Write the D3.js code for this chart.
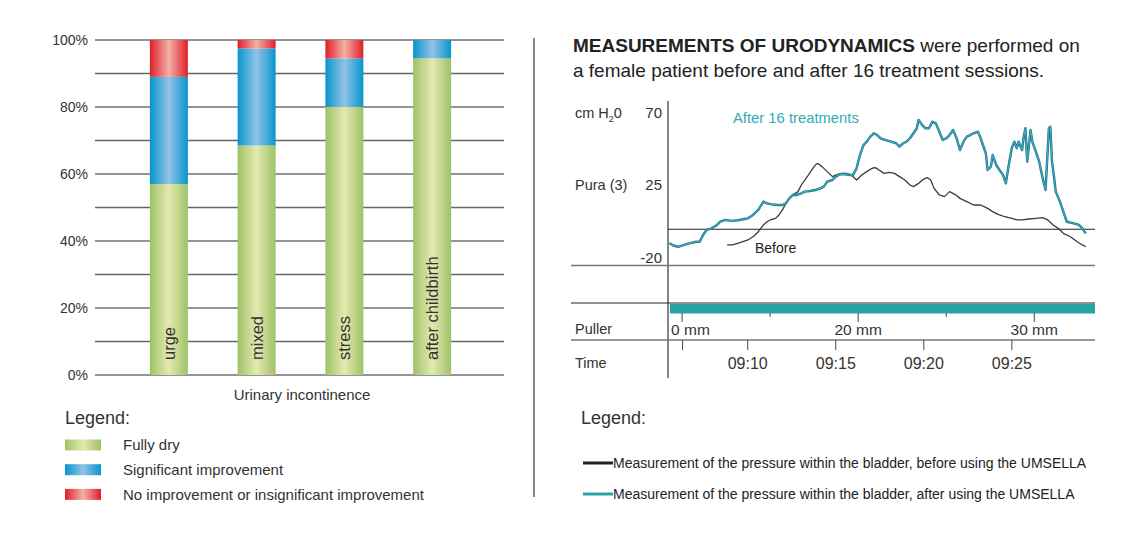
<!DOCTYPE html>
<html><head><meta charset="utf-8">
<script src="https://cdn.jsdelivr.net/npm/d3@7"></script>
<style>body{margin:0;background:#fff}svg{display:block;font-family:"Liberation Sans",Arial,Helvetica,sans-serif}</style>
</head><body><svg id="c" width="1139" height="545"></svg>
<script>
// ---------- Left chart data ----------
const categories = ["urge", "mixed", "stress", "after childbirth"];
const fullyDry = [57, 68.5, 80, 94.5];
const significant = [32, 29, 14.5, 5.5];
const noImprovement = [11, 2.5, 5.5, 0];
const seriesNames = ["Fully dry", "Significant improvement", "No improvement or insignificant improvement"];
const percentTicks = [0, 20, 40, 60, 80, 100];
const gridValues = [0, 10, 20, 30, 40, 50, 60, 70, 80, 90, 100];
const xAxisTitle = "Urinary incontinence";

// ---------- Right chart data (minutes after 09:00, cm H2O) ----------
const afterTime = [5.59,5.83,6.12,6.42,6.71,7.10,7.30,7.49,7.69,7.98,8.28,8.47,8.77,9.16,9.55,9.84,10.04,10.33,10.63,10.92,11.12,11.41,11.70,12.00,12.19,12.39,12.58,12.78,13.07,13.27,13.56,13.86,14.15,14.35,14.54,14.84,15.03,15.23,15.52,15.82,16.01,16.21,16.40,16.60,16.79,16.99,17.19,17.38,17.58,17.87,18.16,18.46,18.65,18.85,19.05,19.24,19.44,19.63,19.73,19.93,20.12,20.32,20.51,20.71,20.91,21.10,21.30,21.49,21.69,21.89,22.08,22.28,22.47,22.67,22.86,23.10,23.26,23.35,23.55,23.65,23.84,23.94,24.04,24.14,24.33,24.53,24.69,24.82,25.02,25.17,25.31,25.41,25.61,25.70,25.80,25.90,26.00,26.09,26.19,26.39,26.58,26.78,26.94,27.03,27.13,27.21,27.31,27.41,27.52,27.76,27.95,28.15,28.54,28.84,29.03,29.23];
const afterPressure = [-11.2,-12.7,-13.3,-12.2,-11.2,-10.2,-10.2,-6.0,-2.9,-1.9,0.2,2.2,3.3,2.7,3.3,3.9,4.3,6.4,9.5,14.7,13.6,13.0,12.6,12.6,13.6,16.7,18.8,18.8,19.8,20.9,21.3,21.9,22.9,24.0,27.1,28.1,30.2,31.6,31.8,31.2,31.2,35.4,43.6,49.8,51.9,55.0,57.1,56.0,54.0,52.9,51.9,50.9,48.8,50.9,51.9,54.0,57.1,60.2,65.4,62.3,60.2,60.2,64.3,63.3,58.1,52.9,54.0,56.0,59.1,54.0,46.7,51.9,55.0,56.0,57.1,58.1,54.0,50.9,44.7,34.3,36.4,43.6,40.5,37.4,34.3,31.2,26.0,35.4,47.8,51.9,47.8,51.9,46.7,55.0,60.2,39.5,49.8,59.1,51.9,45.7,39.5,29.1,21.9,39.5,60.2,61.2,39.5,31.2,20.9,14.7,8.5,2.2,1.2,0.2,-1.9,-5.0];
const beforeTime = [8.86,9.16,9.45,9.75,10.04,10.33,10.63,10.92,11.12,11.31,11.61,11.80,12.00,12.19,12.39,12.58,12.88,13.07,13.27,13.47,13.66,13.86,14.01,14.25,14.54,14.84,15.03,15.33,15.62,15.91,16.21,16.50,16.79,17.09,17.28,17.48,17.77,18.07,18.36,18.65,18.95,19.24,19.44,19.73,20.02,20.22,20.42,20.61,20.91,21.20,21.49,21.79,22.08,22.47,22.86,23.26,23.65,23.94,24.24,24.63,25.02,25.31,25.61,26.00,26.39,26.78,27.07,27.37,27.66,27.95,28.35,28.74,29.03,29.23];
const beforePressure = [-12.2,-12.2,-11.2,-10.2,-9.1,-7.1,-4.0,0.2,2.2,3.3,4.3,6.4,9.5,13.6,16.7,18.8,20.9,25.0,28.1,31.2,34.3,37.4,38.4,36.4,33.3,30.2,31.2,32.2,32.2,31.2,28.1,31.2,33.3,35.4,35.8,34.3,32.2,32.9,32.2,30.2,28.1,25.0,24.0,26.0,28.7,29.6,28.1,22.9,18.8,17.8,20.9,19.2,16.7,14.7,12.6,12.6,10.5,8.5,6.8,5.3,4.3,3.3,3.3,3.9,4.3,4.7,3.3,0.2,-1.9,-5.0,-7.1,-10.2,-12.2,-13.3];
const pressureTicks = [70, 25, -20];
const referenceLevel = -2.5;
const bottomLevel = -25;
const timeTicks = [6.3, 10, 15, 20, 25];
const timeLabels = ["", "09:10", "09:15", "09:20", "09:25"];
const pullerTicks = [6.3, 11.3, 16.3, 21.3, 26.3];
const pullerLabels = ["0 mm", "", "20 mm", "", "30 mm"];
const legendRight = ["Measurement of the pressure within the bladder, before using the UMSELLA",
                     "Measurement of the pressure within the bladder, after using the UMSELLA"];

const svg = d3.select("#c");
const TXT = "#333";
const FF = "Liberation Sans, Arial, sans-serif";

// ---------- gradients ----------
const defs = svg.append("defs");
const gradSpecs = [["gGreen", "#9ec266", "#e4e9b1"], ["gBlue", "#0795cf", "#92c3e5"], ["gRed", "#df1f29", "#f3b0a6"]];
gradSpecs.forEach(([id, edge, mid]) => {
  const g = defs.append("linearGradient").attr("id", id).attr("x1", 0).attr("x2", 1).attr("y1", 0).attr("y2", 0);
  g.append("stop").attr("offset", "0%").attr("stop-color", edge);
  g.append("stop").attr("offset", "50%").attr("stop-color", mid);
  g.append("stop").attr("offset", "100%").attr("stop-color", edge);
});
const fills = ["url(#gGreen)", "url(#gBlue)", "url(#gRed)"];

// ---------- LEFT CHART ----------
const yL = d3.scaleLinear().domain([0, 100]).range([375, 40]);
const xL = d3.scaleBand().domain(categories).range([125, 476]).paddingInner(0.567).paddingOuter(0.2835);

svg.append("g").selectAll("line").data(gridValues).join("line")
  .attr("x1", 95).attr("x2", 504).attr("y1", d => yL(d)).attr("y2", d => yL(d))
  .attr("stroke", (d, i) => i % 2 ? "#666" : "#2a2a2a").attr("stroke-width", (d, i) => i % 2 ? 1.3 : 1);

const yAxisL = svg.append("g").attr("transform", "translate(95,0)")
  .call(d3.axisLeft(yL).tickValues(percentTicks).tickFormat(d => d + "%").tickSize(0).tickPadding(7));
yAxisL.select(".domain").remove();
yAxisL.selectAll("text").attr("font-size", 14).attr("fill", TXT).attr("font-family", FF);

const table = categories.map((c, i) => ({cat: c, dry: fullyDry[i], sig: significant[i], no: noImprovement[i]}));
const stacked = d3.stack().keys(["dry", "sig", "no"])(table);
svg.append("g").selectAll("g").data(stacked).join("g").attr("fill", (d, i) => fills[i])
  .selectAll("rect").data(d => d).join("rect")
  .attr("x", d => xL(d.data.cat)).attr("width", xL.bandwidth())
  .attr("y", d => yL(d[1])).attr("height", d => yL(d[0]) - yL(d[1]));

svg.append("g").selectAll("text").data(categories).join("text")
  .attr("transform", d => `translate(${xL(d) + xL.bandwidth() / 2},360) rotate(-90)`)
  .attr("dy", "0.36em").attr("font-size", 16.5).attr("fill", TXT).text(d => d);

svg.append("text").attr("x", 302).attr("y", 400).attr("text-anchor", "middle")
  .attr("font-size", 15).attr("fill", TXT).text(xAxisTitle);

svg.append("text").attr("x", 65).attr("y", 424).attr("font-size", 18).attr("fill", TXT).text("Legend:");
const legL = svg.append("g").selectAll("g").data(seriesNames).join("g")
  .attr("transform", (d, i) => `translate(65,${445 + i * 24.7})`);
legL.append("rect").attr("x", 0).attr("y", -5.5).attr("width", 36).attr("height", 11).attr("fill", (d, i) => fills[i]);
legL.append("text").attr("x", 58).attr("dy", "0.35em").attr("font-size", 15).attr("fill", TXT).text(d => d);

// divider
svg.append("line").attr("x1", 534).attr("x2", 534).attr("y1", 38).attr("y2", 497).attr("stroke", "#888").attr("stroke-width", 2);

// ---------- RIGHT CHART ----------
const title = svg.append("text").attr("x", 573).attr("y", 52).attr("font-size", 19).attr("fill", "#222");
title.append("tspan").attr("font-weight", "bold").text("MEASUREMENTS OF URODYNAMICS");
title.append("tspan").text(" were performed on");
svg.append("text").attr("x", 573).attr("y", 77).attr("font-size", 19).attr("fill", "#222")
  .text("a female patient before and after 16 treatment sessions.");

const xR = d3.scaleLinear().domain([5.5, 29.75]).range([668, 1095]);
const yR = d3.scaleLinear().domain([-20, 70]).range([257.5, 112.5]);

// frame lines
svg.append("line").attr("x1", 668).attr("x2", 668).attr("y1", 101).attr("y2", 378).attr("stroke", "#333").attr("stroke-width", 1.2);
svg.append("line").attr("x1", 668).attr("x2", 1095).attr("y1", yR(referenceLevel)).attr("y2", yR(referenceLevel)).attr("stroke", "#222").attr("stroke-width", 1.1);
svg.append("line").attr("x1", 571).attr("x2", 1095).attr("y1", yR(bottomLevel)).attr("y2", yR(bottomLevel)).attr("stroke", "#777").attr("stroke-width", 1.6);
svg.append("line").attr("x1", 571).attr("x2", 1095).attr("y1", 303).attr("y2", 303).attr("stroke", "#222").attr("stroke-width", 1.1);
svg.append("rect").attr("x", 670).attr("y", 304).attr("width", 1095 - 670).attr("height", 9.5).attr("fill", "#27a3a3");
svg.append("line").attr("x1", 571).attr("x2", 1095).attr("y1", 340).attr("y2", 340).attr("stroke", "#777").attr("stroke-width", 1.5);

// y labels
const yAxisR = svg.append("g").attr("transform", "translate(668,0)")
  .call(d3.axisLeft(yR).tickValues(pressureTicks).tickFormat(d => String(d)).tickSize(0).tickPadding(6));
yAxisR.select(".domain").remove();
yAxisR.selectAll("text").attr("font-size", 15).attr("fill", TXT).attr("font-family", FF);

const cm = svg.append("text").attr("x", 575).attr("y", yR(70)).attr("dy", "0.35em").attr("font-size", 14.5).attr("fill", TXT);
cm.append("tspan").text("cm H");
cm.append("tspan").attr("font-size", 9).attr("dy", "4").text("2");
cm.append("tspan").attr("dy", "-4").text("0");
svg.append("text").attr("x", 575).attr("y", yR(25)).attr("dy", "0.35em").attr("font-size", 14.5).attr("fill", TXT).text("Pura (3)");

// curves
const beforeData = beforeTime.map((t, i) => [t, beforePressure[i]]);
const afterData = afterTime.map((t, i) => [t, afterPressure[i]]);
const line = d3.line().x(d => xR(d[0])).y(d => yR(d[1]));
svg.append("path").attr("d", line(beforeData)).attr("fill", "none").attr("stroke", "#3a3a3a").attr("stroke-width", 1.3).attr("stroke-linejoin", "round");
svg.append("path").attr("d", line(afterData)).attr("fill", "none").attr("stroke", "#1f6f7c").attr("stroke-width", 2.4).attr("stroke-linejoin", "round");
svg.append("path").attr("d", line(afterData)).attr("fill", "none").attr("stroke", "#3aa9c4").attr("stroke-width", 1.2).attr("stroke-linejoin", "round");

svg.append("text").attr("x", 733).attr("y", 123).attr("font-size", 14.8).attr("fill", "#33abb5").text("After 16 treatments");
svg.append("text").attr("x", 755).attr("y", 253).attr("font-size", 14).attr("fill", "#222").text("Before");

// puller ticks
const pull = svg.append("g");
pull.selectAll("line").data(pullerTicks).join("line")
  .attr("x1", d => xR(d)).attr("x2", d => xR(d)).attr("y1", 313)
  .attr("y2", (d, i) => pullerLabels[i] ? 322 : 317).attr("stroke", "#444").attr("stroke-width", 1);
pull.selectAll("text").data(pullerTicks).join("text")
  .attr("x", (d, i) => i === 0 ? xR(d) - 11 : xR(d)).attr("y", 330).attr("dy", "0.35em")
  .attr("text-anchor", (d, i) => i === 0 ? "start" : "middle")
  .attr("font-size", 15.5).attr("fill", TXT).text((d, i) => pullerLabels[i]);
svg.append("text").attr("x", 575).attr("y", 329).attr("dy", "0.35em").attr("font-size", 14.5).attr("fill", TXT).text("Puller");

// time axis
const tAxis = svg.append("g").attr("transform", "translate(0,340)")
  .call(d3.axisBottom(xR).tickValues(timeTicks).tickFormat((d, i) => timeLabels[i]).tickSize(10).tickPadding(8));
tAxis.select(".domain").remove();
tAxis.selectAll(".tick line").attr("stroke", "#444");
tAxis.selectAll("text").attr("font-size", 16).attr("fill", TXT).attr("font-family", FF);
svg.append("text").attr("x", 575).attr("y", 363).attr("dy", "0.35em").attr("font-size", 14.5).attr("fill", TXT).text("Time");

// right legend
svg.append("text").attr("x", 581).attr("y", 424).attr("font-size", 18).attr("fill", TXT).text("Legend:");
const legR = svg.append("g").selectAll("g").data(legendRight).join("g")
  .attr("transform", (d, i) => `translate(583,${463 + i * 31})`);
legR.append("line").attr("x1", 0).attr("x2", 30).attr("stroke", (d, i) => i ? "#2aa5a5" : "#222").attr("stroke-width", 3);
legR.append("text").attr("x", 30).attr("dy", "0.35em").attr("font-size", 14).attr("fill", "#222").text(d => d);
</script></body></html>
